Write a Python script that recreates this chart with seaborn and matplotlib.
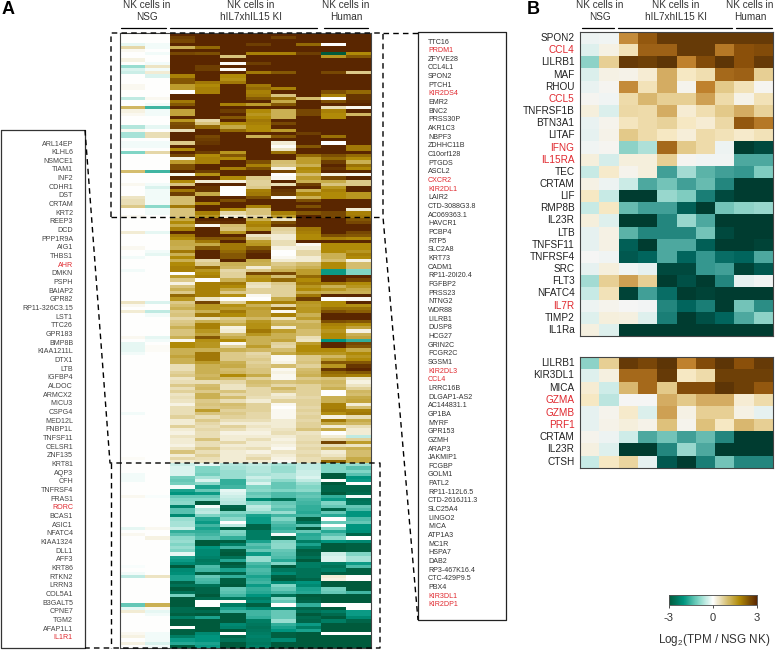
import numpy as np
import pandas as pd
import matplotlib.pyplot as plt
import seaborn as sns
from matplotlib.colors import LinearSegmentedColormap

sns.set_theme(style="white")
plt.rcParams['font.family'] = ['Liberation Sans', 'DejaVu Sans']
plt.rcParams['mathtext.fontset'] = 'custom'
plt.rcParams['mathtext.rm'] = 'Liberation Sans'
plt.rcParams['mathtext.default'] = 'regular'

# column names: 2 NSG, 6 knock-in, 2 human
samples = ["NSG1", "NSG2", "KI1", "KI2", "KI3", "KI4", "KI5", "KI6", "Hu1", "Hu2"]

# panel A (log2 ratio)
block_up = [
    [0,0,3,3,3,3,3,3,3,3],
    [0,0,2.7,3,3,3,2.7,3,3,3],
    [0,0,2.6,3,3,3,3,3,3,3],
    [-.2,-.1,3,3,3,2.7,3,2.2,0,3],
    [.6,-.1,1.2,2.2,3,3,3,3,3,3],
    [.1,0,3,3,3,3,3,3,3,3],
    [0,-.1,2.6,2.5,3,1.9,1.9,2.7,-3,1.8],
    [0,0,3,3,.9,3,3,3,1.6,2.4],
    [.2,0,3,3,3,3,3,3,3,3],
    [0,-.1,3,3,.05,2.7,3,3,3,3],
    [-.8,.4,3,2.7,3,3,3,3,3,3],
    [-.3,-.1,3,2.7,.05,3,3,3,3,3],
    [-.4,.3,3,3,3,2,2.4,3,2.6,.8],
    [0,-.3,1.9,3,1.8,3,3,3,3,3],
    [0,0,2.4,3,1.7,3,3,3,3,3],
    [0,0,2.4,2,2,3,3,3,3,3],
    [.1,0,1.5,1.8,3,2,3,3,3,3],
    [.1,0,1.5,1.9,3,2.2,1.9,3,3,3],
    [0,0,0,1.9,3,1.9,3,3,2.5,2.2],
    [0,0,3,3,3,2,.9,3,1.9,2.8],
    [-.5,.1,3,3,3,2.4,2.2,1,0,2.8],
    [0,0,2,3,3,3,1.3,3,2.5,2.9],
    [0,-.1,2.4,3,1.9,1.5,2.4,3,3,3],
    [1.1,-1.5,3,3,3,3,3,3,.5,.1],
    [.2,-.1,1.4,3,2.7,1.8,1.2,2.6,1.9,3],
    [.1,-.1,1.4,3,3,1.6,1.2,2.6,1.8,1.1],
    [0,0,3,3,2.4,1.8,1.2,3,1.8,3],
    [0,0,1.6,.6,3,2,3,3,3,3],
    [0,0,2.5,.9,1.8,1.9,2.6,3,3,3],
    [-.6,-.2,2.6,2.2,1.3,1.8,3,3,3,3],
    [.1,0,.5,3,2.2,1.8,1.5,3,3,3],
    [-.7,.5,3,3,3,3,3,2.7,3,3],
    [-.7,.5,3,2.6,3,1.2,2.4,3,2.1,3],
    [0,0,3,2.7,3,3,3,3,3,3],
    [-.1,-.1,.8,2.8,3,3,.3,3,0,3],
    [-.1,-.1,3,3,3,3,.05,2.4,3,2],
    [0,0,1.8,3,3,3,.4,3,3,2],
    [-1,.6,3,2.7,1.6,3,2.1,3,3,3],
    [0,0,2.6,1.8,2.4,3,3,2.2,2.5,2.2],
    [0,0,.2,1.9,1.8,3,3,1.5,2.2,1.8],
    [0,0,1.5,1.9,3,2.5,1,1.5,2.7,1.2],
    [0,0,2.5,3,3,1.9,.9,1.2,3,2.1],
    [0,0,2.5,3,1.9,2.5,.2,1.8,2.8,1.8],
    [1,-1.5,3,2.7,3,3,2.6,1.7,3,3],
    [0,0,.1,1.7,3,3,0,1,.2,.1],
    [0,0,3,3,1.8,.8,.1,1.5,2.6,3],
    [0,0,1.8,.3,.2,.7,3,1.2,1.3,.8],
    [.1,-.1,.9,3,3,.7,.5,2.7,.9,.8],
    [0,-.3,3,2.8,0,.8,3,3,1.6,3],
    [0,-.1,2,2.8,0,1.9,2.8,1.2,1.9,3],
    [0,-.1,2.7,1.3,0,2,2.7,1.9,1.8,1.6],
    [.4,-.1,1,3,3,2.5,.1,1.2,1.8,1.6],
    [.5,-.1,1,3,2.5,3,3,2.5,3,3],
    [.5,-.1,1,1.9,3,3,3,3,3,3],
    [.8,-.9,2,3,3,1.9,3,2.5,3,3],
    [0,-.1,.9,3,1.8,.9,3,3,3,.3],
    [0,-.1,.9,1.9,.6,.9,1.9,2.4,2.6,1.9],
    [.1,0,.9,1.6,.3,.6,1.5,3,2.6,2],
]
block_mid = [
    [0,0,1.3,3,3,1.2,.4,3,3,2.4],
    [0,0,1.8,2.8,2.9,1.8,2.5,3,3,2.6],
    [0,0,1.3,.1,1,1.9,2.8,3,3,3],
    [0,0,1.9,3,.9,1.6,.7,2,3,3],
    [.3,-.2,3,3,1.6,3,.6,1.9,3,2.6],
    [0,0,2,3,3,.4,.3,1.8,2.5,2.4],
    [0,0,1.8,2.4,2.4,.7,.3,1.8,1.9,1.8],
    [0,0,1.3,2,3,1.5,.5,3,3,3],
    [0,0,1.3,1.3,2,1.6,.5,.1,1.8,1.8],
    [.1,0,1.2,2.4,2,2.4,.2,.3,1.8,1.8],
    [0,-.1,2,3,2.2,2.8,0,.6,1.8,1.6],
    [0,-.2,1.2,3,2.4,3,0,.6,1.2,1.9],
    [-.1,0,1.8,3,2.4,3,.1,.3,1.2,1.8],
    [0,0,1.2,.6,3,1.3,.3,.3,1,.2],
    [0,0,1.8,.8,1.2,1.2,.8,1,1.8,1],
    [0,0,1.9,2.2,1.1,.3,1,1.2,1.8,1],
    [-.1,0,1.9,1.6,.6,.8,1.2,1.5,-1.9,-1],
    [0,0,0,1.8,.7,2.6,2.6,1.5,-1.9,-1],
    [0,0,1.5,1.9,.7,1.6,1,2.2,3,3],
    [0,0,.8,0,1.2,1.7,2.2,1.8,3,2.6],
    [0,0,.2,1.9,2,.5,.8,2,2,1.8],
    [0,0,.9,1.9,1.8,.4,.7,1.6,1.2,1.6],
    [0,0,1.2,1.9,1.3,.7,.7,1.8,1.6,1.3],
    [0,0,.8,1.9,.8,.7,.7,1.3,1.2,1.2],
    [0,0,2.2,1.9,1.7,.1,.7,2,3,3],
    [0,0,1.6,.4,0,0,1.3,2.7,0,.1],
    [.4,-.3,.8,2.6,.7,1.8,1.9,1.6,1.8,3],
    [.1,0,1,1.6,1.7,1.2,.6,1.5,1.8,1.7],
    [0,0,1.2,1.6,1.5,1.5,2.2,1.6,2.1,2.1],
    [.3,-.5,.8,1.2,2,1.4,.1,1.6,2.5,2.3],
    [0,-.1,.9,2,1.8,1.4,1.9,1.2,3,3],
    [0,0,.6,.5,.8,1.1,.4,1.5,3,3],
    [0,0,.8,1.2,1,1.6,1.1,1,2.5,2.4],
    [0,0,.9,1.9,1.3,1.7,1.2,1.2,1.9,1.8],
    [0,0,1.2,1.9,.2,1.7,.3,1.2,1.8,1.4],
    [0,0,.9,1.6,.3,2,1.5,1,1.6,.2],
    [0,0,.9,1.4,1,1.6,1.2,1,1.8,1.2],
    [.1,-.2,1.2,2.4,1.3,1.2,1.2,.5,1.8,1.4],
    [0,-.1,.1,1.7,1.8,1.2,1.4,.4,-2,-1.6],
    [-.2,0,1.8,1.6,.1,1.2,.7,1.5,3,2.6],
    [-.2,.05,1.8,1.6,.7,1.5,.6,1.8,3,2.4],
    [-.2,.05,1.2,1.2,1.2,1.1,1,1.8,1.8,1.3],
    [-.1,0,1.2,2,.8,.6,1.3,1.6,1.6,1.8],
    [0,0,1.4,2,.8,.7,.1,.8,1.1,1.6],
    [0,0,1.2,2,.8,.8,.1,.8,1.5,1.8],
    [0,0,1.2,1.5,1.2,.7,.2,.9,2.4,2.4],
    [0,0,.5,1.2,1.3,.8,1,.7,1.6,2.8],
    [0,0,.5,1.2,1,.9,.1,1,2.8,3],
    [0,0,.7,1.2,1.1,.9,.2,1.1,2.2,2.4],
    [0,0,.8,1.1,1.8,1.3,.1,1.2,2,1.9],
    [0,0,.4,1.2,1,.7,.1,.8,.9,.4],
    [0,0,.5,.5,.6,1,.9,1,1.1,.2],
    [0,0,.8,1,.4,.9,.6,.7,1,.4],
    [0,0,.5,1.1,.4,.6,1.1,.7,1.2,.7],
    [0,0,.7,.8,.9,.6,.8,.7,0,1.1],
    [0,0,.4,1.2,.6,.6,.3,.7,0,1],
    [0,0,.5,1.2,1,.5,.4,.6,1.2,1.3],
    [0,0,.4,.8,.5,.3,.7,.7,1.2,1.4],
    [0,0,.2,.9,1,.7,.1,.7,1.9,.3],
    [0,0,.5,.8,.9,.7,0,.6,1.9,1],
    [0,0,.5,1.5,.7,.7,.1,.7,2,1.9],
    [-.1,0,.5,.9,.8,.6,.1,.6,1.7,2],
    [0,0,.7,.5,.7,.6,.1,.7,.2,.5],
    [0,0,.3,.8,.5,.5,.3,.6,2,1.3],
    [0,0,.3,.6,.3,.3,.3,.7,1.3,1.1],
    [0,0,.7,.5,.7,.4,.3,.7,.3,.5],
    [0,0,.3,.6,.5,.3,.4,.9,1.3,.3],
    [0,0,.2,.5,.2,.2,.5,.4,0,.3],
    [0,0,.4,.5,.3,.3,.3,.5,.3,-.5],
    [0,0,.3,.9,.3,.5,.2,.5,.6,.7],
    [0,0,.3,.5,.6,.3,.3,.6,2.6,1.5],
    [0,0,.2,.5,.3,.3,.2,.5,.5,.4],
    [0,0,.4,.8,.4,.5,.1,.6,1.1,1.2],
    [0,0,.9,.5,.3,.2,.4,.5,.3,1],
    [0,0,.3,.7,.3,.4,.3,.6,.4,1],
    [.05,0,.6,.5,.3,.6,.2,.5,.7,1.3],
    [0,0,.3,.4,.3,.3,.1,.5,2.2,1.3],
]
block_down = [
    [0,0,-.4,-.2,-.6,-.5,-.7,-.5,-1,-.8],
    [0,0,-.3,-1,-.7,-.6,-.8,-.5,-1,-1.3],
    [0,0,-.3,-1,-.8,-.6,-.8,-.4,-1,-1],
    [-.1,0,-.3,-1.1,-.8,-.7,-.6,-.4,-3,-1.3],
    [-.1,0,-1.1,-.7,-.8,-.4,-.6,-.3,-3,-2],
    [-.1,0,-1.2,-.3,-1.6,-.6,-.9,-.5,0,-1.9],
    [0,0,-1.1,-.9,-1.6,-.3,-1.2,-.8,-3,0],
    [0,0,-.1,-1.8,-1.5,-1,-1.2,-1,-2.8,-2.8],
    [0,0,-1.8,-1.2,-.2,-.9,-1,-.9,-2.8,-2.8],
    [0,0,-2,-1.9,-.3,-1.2,-1.4,-1.3,-3,-2.7],
    [.1,-.05,-1.2,-1.2,-.4,-1.1,-1.4,-1.2,-1.6,-.1],
    [0,0,-1,-1,-.5,-2.2,-2.6,-1.4,-1.9,-2.6],
    [0,0,-.9,-3,-.6,-1,-1.2,-1.5,-1,-2.5],
    [0,0,-2.3,-.1,-2.8,-.5,-1.1,-1.6,-1.2,-1.2],
    [0,0,-1.3,-.6,-2.9,-.6,-1.3,-1.6,-2.8,-1.4],
    [0,0,-1.3,-.5,-1,-.9,-.8,-1.7,-1.2,-2],
    [0,0,-2.2,-1,-1.2,-1.8,-1.5,-1.5,-1.7,-2],
    [0,0,-.8,-1.7,-.9,-1.9,-1,-2.9,0,-1.4],
    [0,0,-.7,-1.9,0,-1.9,-1.3,-2.5,-1.2,-1.2],
    [0,0,-.7,-1.5,-.5,-2.8,-1.5,-1.3,0,-2],
    [-.2,.1,-.4,-1.8,-2.9,-2.8,-1.6,-3,-1,-2],
    [0,0,-1.6,-1.6,-1,-2.4,-1.4,-1.2,-1.7,-2.1],
    [.1,0,-1.3,-1.5,-1.1,-2.4,-.1,-1.7,-1.3,-2.8],
    [0,.2,-.9,-1.3,-1.6,-2.4,-2.9,-1.6,-.9,0],
    [0,0,-.8,-3,-2.9,-1.8,-1,-2.4,-2,-2.2],
    [0,0,-1,-3,-2.4,-1.3,-.9,-1.8,-3,-2.9],
    [0,0,-.8,-2,-1.5,-1.5,-.9,-2.4,-3,-2.9],
    [0,0,-1,-2.2,-2.9,-1.2,-1.2,-2.9,-3,-2.9],
    [0,0,-.2,-2.2,-3,-1.9,-1.3,-2.8,-.4,-1],
    [0,0,-1.8,-2.3,-2.6,-.8,-1.4,-2.6,-.3,-.7],
    [0,0,-1.9,-2.5,-1.7,-.8,-1.7,-3,-.3,-.7],
    [0,0,-2.2,-2.4,-3,-1.4,-1,-2.4,-2.4,-1.9],
    [-.05,0,-3,-1.4,-2.8,-1.6,-3,-2.4,-2.6,-1.4],
    [0,0,-2.2,-1.5,-1.8,-1.4,-2.5,-2.6,-2.4,-2.9],
    [-.1,0,-2.1,-2.9,-2.8,-1.5,-2.2,-2.6,-2.9,-2.9],
    [-.5,.4,-1.8,-1.2,-1.6,-1.8,-2.9,-2.6,.3,0],
    [0,0,-1.8,-1.4,-2.9,-1.6,-3,-2.8,.2,0],
    [0,0,-2.8,-1.5,-2.9,-1.5,-2.2,-2,-3,-3],
    [0,0,-2.6,-2.6,-3,-1.9,-1,-2.2,-3,-3],
    [0,0,-3,-2.8,-1.2,-1.6,-1.2,-1.8,-1.1,-3],
    [0,0,-2.6,-2.8,-1.3,-1.7,-1.5,-1.7,-1.2,-1.5],
    [0,0,-1.1,-3,-1.5,-2,-2.6,-3,-3,-3],
    [0,0,-3,-2.7,-2.5,-2.4,-1,-2.9,-3,-3],
    [0,0,-3,0,.05,-2.2,-1.2,-2.8,-3,-3],
    [-1.2,1.2,-3,0,-2.4,-2.9,0,-1.6,0,0],
    [-.2,.1,-2.7,-3,-1.8,-2.2,-2.4,-2.8,-3,0],
    [.3,-.2,-2.7,-2.7,-1.5,-1.5,-1.2,-2.6,-2.4,-1.9],
    [0,-.1,-2.9,-3,-3,-1.5,-1.2,-3,-2.7,-1.9],
    [0,0,-2.4,-1.8,-3,-1.6,-1.2,-2.7,-3,-2.2],
    [0,0,-3,-3,-3,-2.4,-.8,-2.8,-2.4,-2.8],
    [0,0,-3,-3,-2.2,-2.5,-1.6,-1.9,-3,-3],
    [0,0,0,-3,-2.3,-2.6,-1.8,-2.4,-3,-3],
    [0,0,-2.9,-3,-3,-2.5,-2,-1.8,-3,-3],
    [.1,-.1,-2.9,-2.2,0,-2.4,-2.9,-3,0,0],
    [.2,-.1,-2.4,-2,-2.8,-2.3,-2.9,-3,-3,-3],
    [0,-.1,-1.9,-2,-2.6,-2.4,-2.2,-3,-3,-3],
    [.2,-.3,-1.7,-1.8,-3,-2.5,-3,-3,-3,-3],
    [0,-.1,-2.9,-1.9,-3,-2.4,-3,-3,-3,-3],
]

left_genes = ["ARL14EP","KLHL6","NSMCE1","TIAM1","INF2","CDHR1","DST","CRTAM","KRT2","REEP3",
    "DCD","PPP1R9A","AIG1","THBS1","AHR","DMKN","PSPH","BAIAP2","GPR82","RP11-326C3.15",
    "LST1","TTC26","GPR183","BMP8B","KIAA1211L","DTX1","LTB","IGFBP4","ALDOC","ARMCX2",
    "MICU3","CSPG4","MED12L","FNBP1L","TNFSF11","CELSR1","ZNF135","KRT81","AQP3","CFH",
    "TNFRSF4","FRAS1","RORC","BCAS1","ASIC1","NFATC4","KIAA1324","DLL1","AFF3","KRT86",
    "RTKN2","LRRN3","COL5A1","B3GALT5","CPNE7","TGM2","AFAP1L1","IL1R1"]
right_genes = ["TTC16","PRDM1","ZFYVE28","CCL4L1","SPON2","PTCH1","KIR2DS4","EMR2","BNC2","PRSS30P",
    "AKR1C3","NBPF3","ZDHHC11B","C10orf128","PTGDS","ASCL2","CXCR2","KIR2DL1","LAIR2","CTD-3088G3.8",
    "AC069363.1","HAVCR1","PCBP4","RTP5","SLC2A8","KRT73","CADM1","RP11-20I20.4","FGFBP2","PRSS23",
    "NTNG2","WDR88","LILRB1","DUSP8","HCG27","GRIN2C","FCGR2C","SGSM1","KIR2DL3","CCL4",
    "LRRC16B","DLGAP1-AS2","AC144831.1","GP1BA","MYRF","GPR153","GZMH","ARAP3","JAKMIP1","FCGBP",
    "GOLM1","PATL2","RP11-112L6.5","CTD-2616J11.3","SLC25A4","LINGO2","MICA","ATP1A3","MC1R","HSPA7",
    "DAB2","RP3-467K16.4","CTC-429P9.5","PBX4","KIR3DL1","KIR2DP1"]

# panel B
genes_b1 = ["SPON2","CCL4","LILRB1","MAF","RHOU","CCL5","TNFRSF1B","BTN3A1","LITAF","IFNG","IL15RA","TEC",
    "CRTAM","LIF","RMP8B","IL23R","LTB","TNFSF11","TNFRSF4","SRC","FLT3","NFATC4","IL7R","TIMP2","IL1Ra"]
values_b1 = [
    [-.1,-.05,1.7,2.3,2.8,2.8,2.8,2.8,2.8,2.8],
    [-.3,.2,.7,2.2,2.2,2.8,2.8,1.9,2.4,2.5],
    [-1.1,1,2.8,2.7,2.9,1.8,2.5,2.9,2.4,2.8],
    [-.35,.2,.15,.4,1.4,.6,.75,2.1,2.2,1],
    [-.15,.05,1.7,.7,1.4,.1,1.8,1.1,.7,.05],
    [.05,-.05,.8,1.3,1,1,1.5,.8,.15,.7],
    [.3,-.35,.85,.8,1.4,.4,.75,1.1,1.4,.95],
    [-.15,.1,.65,.8,.95,.6,.4,.85,2.3,1.9],
    [-.2,.15,1.1,.8,.6,.35,.8,.7,.5,.7],
    [-.05,.05,-1.1,-.8,2.1,1.1,.8,-.1,-3,-2.8],
    [.3,-.4,.3,.3,1,.05,-.05,-.05,-1.6,-1.6],
    [-.6,.5,.1,.3,-1.7,-.9,-1.5,-1.7,-1.8,-1.2],
    [.2,-.1,-.55,-1.6,-1.3,-1.7,-1.4,-2,-3,-3],
    [.6,-.6,-3,-3,-1,-1.2,-2.1,-2.8,-3,-3],
    [-.6,.6,-1.4,-1.7,-1.7,-2.5,-3,-1.3,-1.1,-1],
    [.3,-.3,-3,-3,-2,-1,-1.6,-3,-3,-3],
    [-.2,.2,-1.5,-2,-2,-2,-1.3,-2.8,-3,-3],
    [-.2,.2,-2.5,-3,-1.6,-1.6,-2.5,-3,-3,-2.9],
    [0,-.05,-2.6,-2.4,-1.6,-2.4,-1.8,-2.3,-2.4,-1.6],
    [-.2,.3,-.05,-.2,-2.8,-2.8,-1.8,-1.7,-2.9,-2.6],
    [-.9,1,1.5,1,-3,-2.7,-3,-2,-.2,-.05],
    [-.6,.7,-2.9,-1.7,-2.3,-3,-2.9,-3,-3,-3],
    [-.1,.1,0,-.03,-2,-2.4,-2.1,-3,-1.3,-1.9],
    [-.3,.3,.25,-.3,-2.1,-3,-2.7,-2.4,-1.6,-1.1],
    [.25,-.3,-3,-3,-3,-3,-3,-3,-3,-3],
]
genes_b2 = ["LILRB1","KIR3DL1","MICA","GZMA","GZMB","PRF1","CRTAM","IL23R","CTSH"]
values_b2 = [
    [-1.1,1,2.8,2.6,2.9,1.8,2.5,2.9,2.4,2.8],
    [-.3,.25,2.1,2.1,2.8,.6,.8,2.7,2.7,2.7],
    [.4,-.5,1.3,2.1,1.1,2.5,2.5,2.9,2.7,2.3],
    [.6,-.7,0,0,1.4,1.1,1.4,1.4,.4,.8],
    [-.2,.1,.5,-.35,1.5,.2,1,1,.2,-.2],
    [-.2,.15,.3,.15,1.2,.1,1.2,.6,1.3,1],
    [.1,-.1,-.5,-1.6,-1.3,-1.7,-1.4,-2,-3,-3],
    [.25,-.3,-3,-3,-2,-1,-1.6,-3,-3,-3],
    [-.6,.6,.9,-.2,-2.6,-3,-2.1,-1.3,-2,-2],
]

# genes printed in red, per panel
red_genes_a = {"AHR","RORC","IL1R1","PRDM1","KIR2DS4","CXCR2","KIR2DL1","KIR2DL3","CCL4","KIR3DL1","KIR2DP1"}
red_genes_b = {"CCL4","CCL5","IFNG","IL15RA","IL7R","GZMA","GZMB","PRF1"}
RED = "#e0282e"

W, H = 775, 650
fig = plt.figure(figsize=(W / 100, H / 100), dpi=100)

def px_axes(x0, y0, x1, y1):
    return fig.add_axes([x0 / W, 1 - y1 / H, (x1 - x0) / W, (y1 - y0) / H])

# colormap of the large heatmap and the colour bar
cmap_a = LinearSegmentedColormap.from_list("tealgold", [
    (0.0, "#005a3c"), (1/6, "#00957f"), (1/3, "#80d5c5"), (0.5, "#ffffff"),
    (2/3, "#d4bd6e"), (0.8, "#b08a08"), (1.0, "#5a2600")])

# panel A + colour bar
df_a = pd.DataFrame(block_up + block_mid + block_down, columns=samples)
ax_a = px_axes(120, 33, 371, 648)
cax = px_axes(669, 595, 757, 605)
sns.heatmap(df_a, ax=ax_a, cmap=cmap_a, vmin=-3, vmax=3, xticklabels=False, yticklabels=False,
            cbar_ax=cax, cbar_kws={"orientation": "horizontal", "ticks": [-3, 0, 3]})
ax_a.set_ylabel("")
cax.tick_params(labelsize=8, length=2, width=0.6, pad=4, colors="#333333", bottom=True)
cax.set_xticklabels(["-3", "0", "3"])
for s in cax.spines.values():
    s.set_visible(True)
    s.set_linewidth(0.5)
    s.set_color("#555555")

# panel B
ax_b1 = px_axes(580, 32, 773, 336)
sns.heatmap(pd.DataFrame(values_b1, index=genes_b1, columns=samples), ax=ax_b1, cmap="BrBG_r",
            vmin=-3, vmax=3, cbar=False, xticklabels=False, yticklabels=True)
ax_b2 = px_axes(580, 357, 773, 468)
sns.heatmap(pd.DataFrame(values_b2, index=genes_b2, columns=samples), ax=ax_b2, cmap="BrBG_r",
            vmin=-3, vmax=3, cbar=False, xticklabels=False, yticklabels=True)
for ax in (ax_b1, ax_b2):
    ax.set_ylabel("")
    ax.tick_params(axis="y", length=0, pad=4, labelsize=7.2, labelrotation=0, colors="#222222")
    for lab in ax.get_yticklabels():
        if lab.get_text() in red_genes_b:
            lab.set_color(RED)

for ax in (ax_a, ax_b1, ax_b2):
    for s in ax.spines.values():
        s.set_visible(True)
        s.set_linewidth(0.8)
        s.set_color("#444444")

# overlay in pixel coordinates for labels, boxes and dashed guides
ov = fig.add_axes([0, 0, 1, 1], facecolor="none")
ov.set_xlim(0, W)
ov.set_ylim(H, 0)
ov.axis("off")

for i, g in enumerate(left_genes):
    ov.text(73, 144 + i * 8.665, g, ha="right", va="center", fontsize=5.1,
            color=RED if g in red_genes_a else "#444444")
for i, g in enumerate(right_genes):
    ov.text(428, 42 + i * 8.66, g, ha="left", va="center", fontsize=5.1,
            color=RED if g in red_genes_a else "#333333")

ov.plot([1, 85, 85, 1, 1], [130, 130, 648, 648, 130], color="#333333", lw=0.9)
ov.plot([418, 506, 506, 418, 418], [32, 32, 620, 620, 32], color="#222222", lw=0.9)

dash = dict(color="black", lw=1.0, ls=(0, (4, 3)))
ov.plot([111, 111, 383, 383, 418], [217, 33, 33, 217, 620], **dash)
ov.plot([383, 418], [33, 33], **dash)
ov.plot([111, 383], [217, 217], **dash)
ov.plot([85, 110, 380, 380, 85], [130, 463, 463, 648, 648], **dash)
ov.plot([111, 111], [463, 648], **dash)

# group headers
for cx, x0, x1, name in [(147, 121, 166, "NSG"), (251, 170, 317, "hIL7xhIL15 KI"), (346, 324, 368, "Human"),
                         (600, 582, 614, "NSG"), (676, 618, 732, "hIL7xhIL15 KI"), (750, 736, 772, "Human")]:
    ov.text(cx, 5, "NK cells in", ha="center", va="center", fontsize=7.2, color="#333333")
    ov.text(cx, 17, name, ha="center", va="center", fontsize=7.2, color="#333333")
    ov.plot([x0, x1], [27.5, 27.5], color="black", lw=0.9)

ov.text(2, 9, "A", ha="left", va="center", fontsize=13, fontweight="bold", color="black")
ov.text(527, 9, "B", ha="left", va="center", fontsize=13, fontweight="bold", color="black")
ov.text(714, 640, "Log$_2$(TPM / NSG NK)", ha="center", va="center", fontsize=8.4, color="#333333")

fig.savefig("out.png", dpi=100)
